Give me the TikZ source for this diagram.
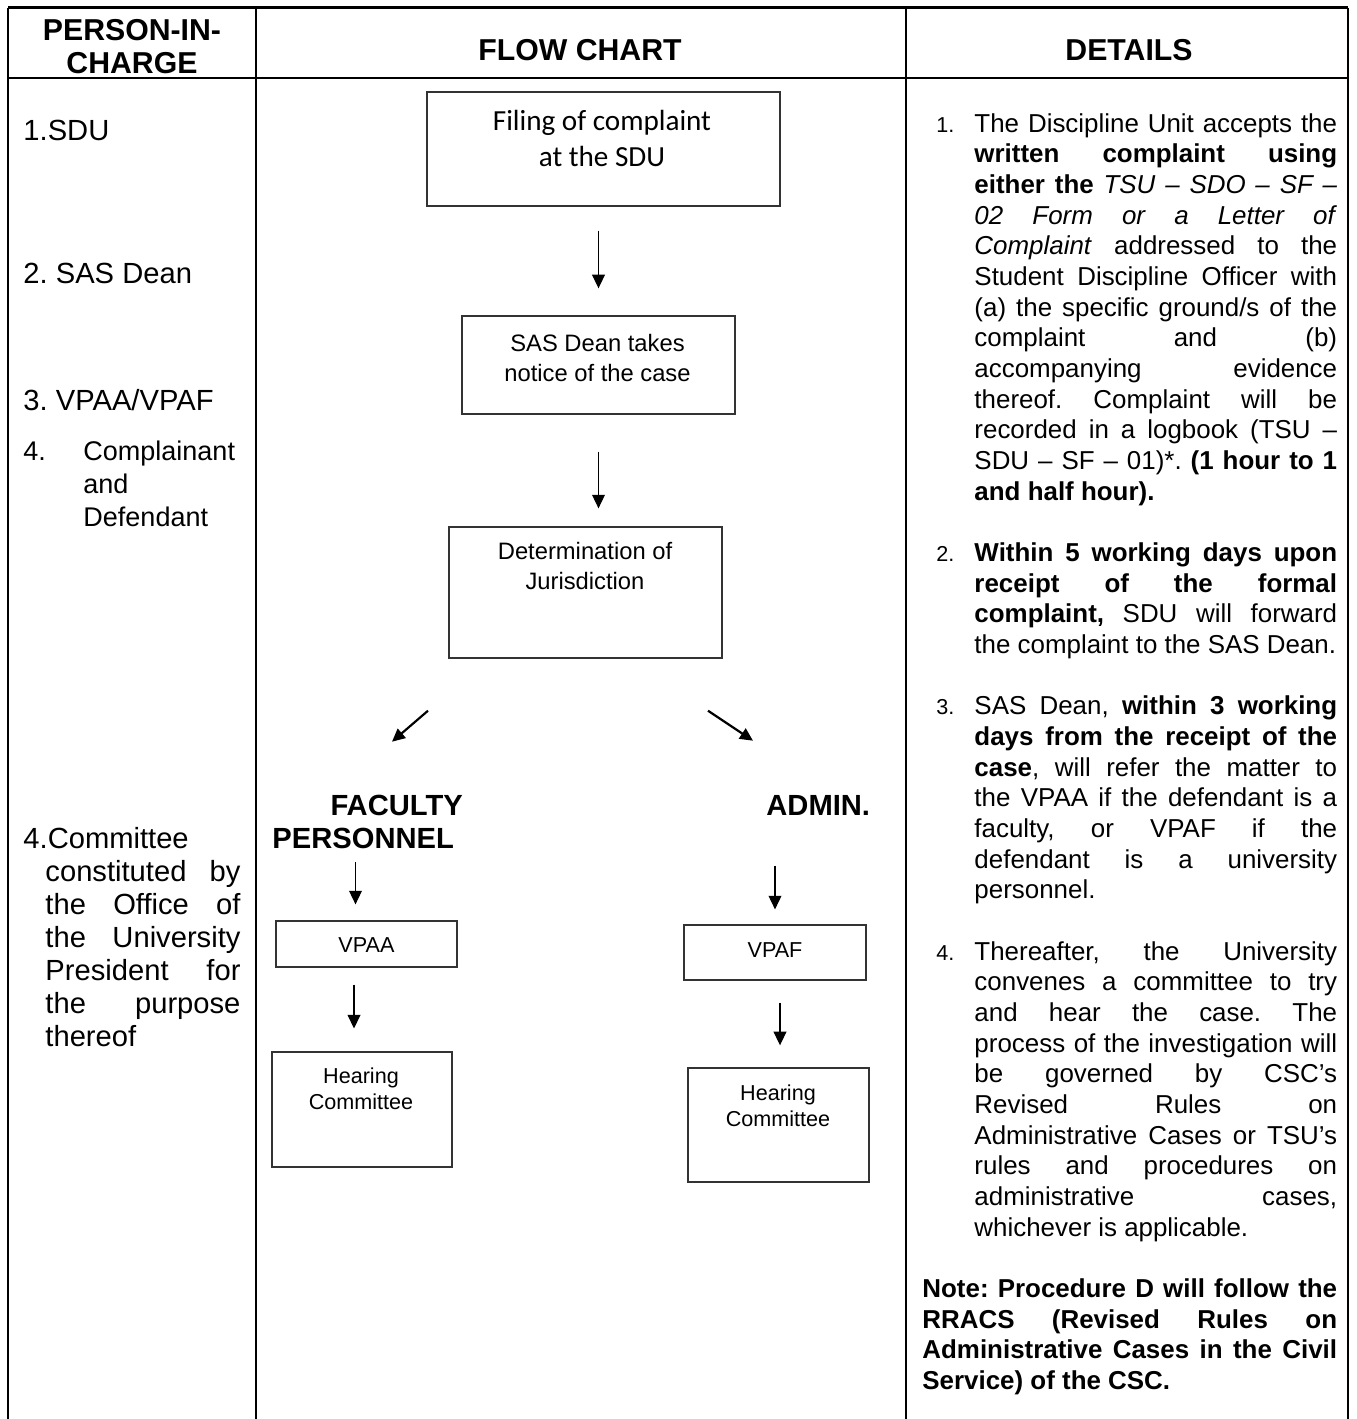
\documentclass[tikz,border=0pt]{standalone}
\usepackage{fontspec}
\setmainfont{Liberation Sans}
\newfontfamily\calibri{Carlito}
\usetikzlibrary{arrows.meta, calc, positioning}

\tolerance=10000
\hbadness=10000
\hyphenpenalty=10000
\frenchspacing

\newcommand{\bodyfont}{\fontsize{12}{14.2}\selectfont}
\newcommand{\leftfont}{\fontsize{13.5}{15.3}\selectfont}
\newcommand{\partyfont}{\fontsize{12.5}{15.3}\selectfont}
\newcommand{\headfont}{\fontsize{14}{15.3}\selectfont\bfseries}
\newcommand{\branchfont}{\fontsize{13.5}{15.3}\selectfont\bfseries}
\newcommand{\boxfont}{\fontsize{11}{13.9}\selectfont}
\newcommand{\smallboxfont}{\fontsize{10}{12}\selectfont}
\newcommand{\detitem}[1]{\hangindent=24.1pt\hangafter=1\noindent\strut\hspace*{6.5pt}\makebox[17.6pt][l]{\fontsize{10}{12}\selectfont #1}}

\tikzset{
  rule/.style={line width=1pt},
  flowbox/.style={draw=black!80, line width=0.6pt, rectangle, inner sep=0pt},
  boxtext/.style={inner sep=0pt, align=center},
  plain/.style={inner sep=0pt},
  flowarrow/.style={line width=0.6pt, -{Triangle[length=6.3pt,width=5.9pt]}},
  forkarrow/.style={line width=1pt, -{Triangle[length=6pt,width=5.6pt]}}
}

\begin{document}
\begin{tikzpicture}[x=0.463pt, y=-0.463pt]
    \useasboundingbox (0,0) rectangle (1357,1419);

    % table rules
    \draw[rule] (8,7.5) -- (1348,7.5);
    \draw[rule] (8,78) -- (1348,78);
    \foreach \x in {8,256,906,1348}
        \draw[rule] (\x,7.5) -- (\x,1419);

    % headings
    \node[plain, anchor=north, align=center, font=\headfont] (pichead) at (132,16.5) {\strut PERSON-IN-\\CHARGE};
    \node[plain, anchor=base, font=\headfont] (flowhead) at (580,60) {FLOW CHART};
    \node[plain, anchor=base, font=\headfont] (dethead) at (1129,60) {DETAILS};

    % person in charge
    \node[plain, anchor=base west, font=\leftfont] (sdu) at (23,140) {1.SDU};
    \node[plain, anchor=base west, font=\leftfont] (dean) at (23,283) {2. SAS Dean};
    \node[plain, anchor=base west, font=\leftfont] (vps) at (23,410) {3. VPAA/VPAF};
    \node[plain, anchor=north west, align=left, font=\partyfont] (parties) at (23,436.9)
        {\strut\makebox[27.8pt][l]{4.}Complainant\\\hspace*{27.8pt}and\\\hspace*{27.8pt}Defendant};
    \node[plain, anchor=north west, text width=100.5pt, align=justify, font=\leftfont] (committee) at (23,824.9)
        {\parindent=0pt\parskip=0pt
         \strut 4.Committee\par
         \leftskip=10.2pt
         constituted by\linebreak the Office of\linebreak the University\linebreak President for\linebreak the purpose\linebreak thereof\par};

    % flow chart boxes
    \node[flowbox, minimum width=163.4pt, minimum height=52.8pt] (filing) at (603.5,149) {};
    \node[boxtext, anchor=north, font=\calibri\fontsize{13.5}{16.7}\selectfont] (filingtxt) at (602,104.8) {\strut Filing of complaint\\at the SDU};

    \node[flowbox, minimum width=126.4pt, minimum height=45.4pt] (sasdean) at (598.5,365) {};
    \node[boxtext, anchor=north, font=\boxfont] (sasdeantxt) at (597.5,330) {\strut SAS Dean takes\\notice of the case};

    \node[flowbox, minimum width=126.4pt, minimum height=60.7pt] (jurisdiction) at (585.5,592.5) {};
    \node[boxtext, anchor=north, font=\boxfont] (jurisdictiontxt) at (585,538) {\strut Determination of\\Jurisdiction};

    \node[plain, anchor=north west, align=left, font=\branchfont] (faculty) at (272,791.9) {\strut\hspace*{26.9pt}FACULTY\\PERSONNEL};
    \node[plain, anchor=base west, font=\branchfont] (admin) at (766,815) {ADMIN.};

    \node[flowbox, minimum width=83.8pt, minimum height=21.3pt] (vpaa) at (366.5,944) {};
    \node[plain, anchor=base, font=\smallboxfont] (vpaatxt) at (366.5,952) {VPAA};
    \node[flowbox, minimum width=83.3pt, minimum height=53.2pt] (hearfac) at (362,1109.5) {};
    \node[boxtext, anchor=north, font=\smallboxfont] (hearfactxt) at (361,1064.8) {\strut Hearing\\Committee};

    \node[flowbox, minimum width=84.3pt, minimum height=25.5pt] (vpaf) at (775,952.5) {};
    \node[plain, anchor=base, font=\smallboxfont] (vpaftxt) at (775,957) {VPAF};
    \node[flowbox, minimum width=83.8pt, minimum height=52.8pt] (hearadm) at (778.5,1125) {};
    \node[boxtext, anchor=north, font=\smallboxfont] (hearadmtxt) at (778,1081.8) {\strut Hearing\\Committee};

    % arrows
    \draw[flowarrow, shorten <=11.1pt, shorten >=12.5pt] (sasdean.north |- filing.south) -- (sasdean.north);
    \draw[flowarrow, shorten <=17.1pt, shorten >=8.3pt] (sasdean.south) -- (sasdean.south |- jurisdiction.north);
    \draw[forkarrow] ($(jurisdiction.south)+(-157.5,52)$) -- ($(jurisdiction.south)+(-193.5,83)$);
    \draw[forkarrow] ($(jurisdiction.south)+(122.5,52)$) -- ($(jurisdiction.south)+(167.5,82)$);
    \draw[flowarrow, shorten <=6pt, shorten >=7.4pt] ($(vpaa.north |- faculty.south)+(-11,0)$) -- ($(vpaa.north)+(-11,0)$);
    \draw[flowarrow, shorten <=7.9pt, shorten >=10.6pt] ($(vpaa.south)+(-12.5,0)$) -- ($(vpaa.south |- hearfac.north)+(-12.5,0)$);
    \draw[flowarrow, shorten <=23.2pt, shorten >=6.9pt] (vpaf.north |- admin.south) -- (vpaf.north);
    \draw[flowarrow, shorten <=10.2pt, shorten >=10.2pt] ($(vpaf.south)+(5,0)$) -- ($(vpaf.south |- hearadm.north)+(5,0)$);

    % details
    \node[plain, anchor=north west, text width=192pt, align=justify, font=\bodyfont] (details) at (922,110.2) {%
        \parskip=14.2pt\parindent=0pt
        \detitem{1.}The Discipline Unit accepts the\linebreak
        \textbf{written complaint using}\linebreak
        \textbf{either the} \textit{TSU – SDO – SF –}\linebreak
        \textit{02 Form or a Letter of}\linebreak
        \textit{Complaint} addressed to the\linebreak
        Student Discipline Officer with\linebreak
        (a) the specific ground/s of the\linebreak
        complaint and (b)\linebreak
        accompanying evidence\linebreak
        thereof. Complaint will be\linebreak
        recorded in a logbook (TSU –\linebreak
        SDU – SF – 01)*.\ \textbf{(1 hour to 1}\linebreak
        \textbf{and half hour).}\par
        \detitem{2.}\textbf{Within 5 working days upon}\linebreak
        \textbf{receipt of the formal}\linebreak
        \textbf{complaint,} SDU will forward\linebreak
        the complaint to the SAS Dean.\par
        \detitem{3.}SAS Dean, \textbf{within 3 working}\linebreak
        \textbf{days from the receipt of the}\linebreak
        \textbf{case}, will refer the matter to\linebreak
        the VPAA if the defendant is a\linebreak
        faculty, or VPAF if the\linebreak
        defendant is a university\linebreak
        personnel.\par
        \detitem{4.}Thereafter, the University\linebreak
        convenes a committee to try\linebreak
        and hear the case.\ The\linebreak
        process of the investigation will\linebreak
        be governed by CSC’s\linebreak
        Revised Rules on\linebreak
        Administrative Cases or TSU’s\linebreak
        rules and procedures on\linebreak
        administrative cases,\linebreak
        whichever is applicable.\par
        \noindent\textbf{Note: Procedure D will follow the\linebreak
        RRACS (Revised Rules on\linebreak
        Administrative Cases in the Civil\linebreak
        Service) of the CSC.}\par};
\end{tikzpicture}
\end{document}
